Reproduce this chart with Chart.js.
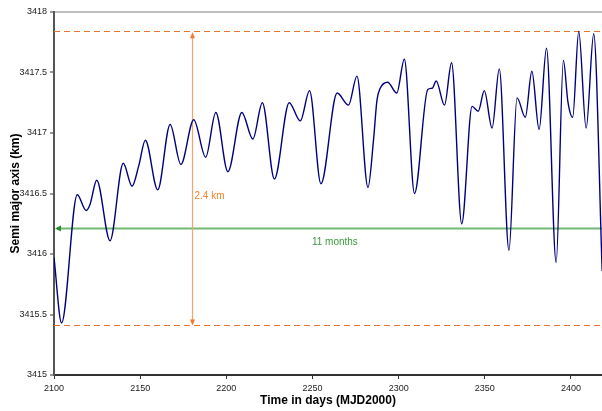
<!DOCTYPE html>
<html>
<head>
<meta charset="utf-8">
<script src="https://cdn.jsdelivr.net/npm/chart.js@4/dist/chart.umd.min.js"></script>
<style>
  html, body { margin: 0; padding: 0; background: #fff; }
  #wrap { width: 602px; height: 411px; }
</style>
</head>
<body>
<div id="wrap"><canvas id="chart"></canvas></div>
<script>
// Time (MJD2000 days) and semi major axis (km): extrema and shoulders
const days = [
  2100.0, 2104.4, 2113.5, 2118.6, 2120.9, 2124.8, 2132.5, 2140.2, 2145.3, 2149.2,
  2153.0, 2160.2, 2167.4, 2173.6, 2181.1, 2188.0, 2193.9, 2200.9, 2209.0, 2215.4,
  2220.9, 2227.9, 2236.5, 2242.9, 2248.3, 2254.9, 2264.3, 2270.9, 2275.8, 2282.2,
  2285.4, 2287.4, 2289.3, 2293.6, 2298.9, 2303.3, 2309.2, 2316.9, 2319.5, 2321.8,
  2326.6, 2330.7, 2336.6, 2342.6, 2346.2, 2349.7, 2354.2, 2358.4, 2364.0, 2368.7,
  2373.5, 2377.3, 2381.5, 2385.8, 2391.4, 2395.6, 2398.2, 2401.0, 2404.5, 2408.8,
  2413.2, 2418.1
];
const axisKm = [
  3415.97, 3415.43, 3416.49, 3416.36, 3416.41, 3416.61, 3416.11, 3416.75, 3416.56, 3416.73,
  3416.94, 3416.53, 3417.07, 3416.74, 3417.11, 3416.80, 3417.17, 3416.68, 3417.17, 3416.95,
  3417.25, 3416.62, 3417.25, 3417.10, 3417.35, 3416.58, 3417.33, 3417.23, 3417.47, 3416.55,
  3416.94, 3417.27, 3417.37, 3417.42, 3417.33, 3417.61, 3416.50, 3417.36, 3417.37, 3417.43,
  3417.23, 3417.58, 3416.25, 3417.22, 3417.18, 3417.35, 3417.04, 3417.53, 3416.03, 3417.29,
  3417.13, 3417.51, 3417.03, 3417.70, 3415.93, 3417.60, 3417.26, 3417.13, 3417.84, 3417.04,
  3417.82, 3415.86
];
const dayTicks = [2100, 2150, 2200, 2250, 2300, 2350, 2400];

// annotation values
const upperKm = 3417.84;
const lowerKm = 3415.41;
const spanDay = 2180;
const spanLabel = '2.4 km';
const spanLabelKm = 3416.48;
const periodKm = 3416.21;
const periodLabel = '11 months';
const periodLabelDay = 2263;

const points = days.map((d, i) => ({ x: d, y: axisKm[i] }));

// draws the dashed bounds, the 2.4 km arrow and the 11 months arrow
const annotations = {
  id: 'annotations',
  beforeDatasetsDraw(chart) {
    const { ctx, chartArea: a, scales: { x, y } } = chart;
    ctx.save();
    ctx.beginPath();
    ctx.rect(a.left, a.top, a.right - a.left, a.bottom - a.top);
    ctx.clip();

    // dashed bounds
    ctx.strokeStyle = '#e6732e';
    ctx.lineWidth = 1;
    ctx.setLineDash([6, 4]);
    [upperKm, lowerKm].forEach(v => {
      const py = Math.round(y.getPixelForValue(v)) + 0.5;
      ctx.beginPath();
      ctx.moveTo(a.left, py);
      ctx.lineTo(a.right, py);
      ctx.stroke();
    });
    ctx.setLineDash([]);

    // green period line
    const gy = y.getPixelForValue(periodKm);
    ctx.strokeStyle = '#72b872';
    ctx.lineWidth = 2;
    ctx.beginPath();
    ctx.moveTo(a.left + 3, gy);
    ctx.lineTo(a.right, gy);
    ctx.stroke();
    ctx.fillStyle = '#2e8b2e';
    ctx.beginPath();
    ctx.moveTo(a.left + 1, gy);
    ctx.lineTo(a.left + 7, gy - 3);
    ctx.lineTo(a.left + 7, gy + 3);
    ctx.closePath();
    ctx.fill();

    // orange span arrow
    const ox = Math.round(x.getPixelForValue(spanDay)) + 0.5;
    const top = y.getPixelForValue(upperKm) + 1;
    const bot = y.getPixelForValue(lowerKm);
    ctx.strokeStyle = '#f8a466';
    ctx.lineWidth = 1.2;
    ctx.beginPath();
    ctx.moveTo(ox, top + 3);
    ctx.lineTo(ox, bot - 3);
    ctx.stroke();
    ctx.fillStyle = '#f07a2a';
    ctx.beginPath();
    ctx.moveTo(ox, top);
    ctx.lineTo(ox - 2.5, top + 6);
    ctx.lineTo(ox + 2.5, top + 6);
    ctx.closePath();
    ctx.fill();
    ctx.beginPath();
    ctx.moveTo(ox, bot);
    ctx.lineTo(ox - 2.5, bot - 6);
    ctx.lineTo(ox + 2.5, bot - 6);
    ctx.closePath();
    ctx.fill();

    // labels
    ctx.font = '10px "Liberation Sans", Arial, sans-serif';
    ctx.textBaseline = 'middle';
    ctx.fillStyle = '#f5842c';
    ctx.textAlign = 'left';
    ctx.fillText(spanLabel, ox + 2, y.getPixelForValue(spanLabelKm));
    ctx.fillStyle = '#3c9a3c';
    ctx.textAlign = 'center';
    ctx.fillText(periodLabel, x.getPixelForValue(periodLabelDay), gy + 14);
    ctx.restore();
  }
};

new Chart(document.getElementById('chart'), {
  type: 'line',
  data: {
    datasets: [{
      data: points,
      borderColor: '#00007f',
      borderWidth: 1.4,
      pointRadius: 0,
      cubicInterpolationMode: 'monotone',
      fill: false
    }]
  },
  options: {
    responsive: true,
    maintainAspectRatio: false,
    animation: false,
    layout: { padding: { top: 12, right: 0, left: 0, bottom: 0 } },
    plugins: { legend: { display: false }, tooltip: { enabled: false } },
    scales: {
      x: {
        type: 'linear',
        min: 2100,
        max: 2418,
        afterBuildTicks: s => { s.ticks = dayTicks.map(v => ({ value: v })); },
        afterFit: s => { s.height = 36; },
        ticks: {
          padding: 4,
          color: '#222',
          font: { family: '"Liberation Sans", Arial, sans-serif', size: 9 },
          callback: v => String(v)
        },
        grid: { drawOnChartArea: false, tickLength: 4, tickColor: '#333', tickWidth: 1 },
        border: { color: '#333', width: 2 },
        title: {
          display: true,
          text: 'Time in days (MJD2000)',
          color: '#000',
          font: { family: '"Liberation Sans", Arial, sans-serif', size: 12, weight: 'bold' },
          padding: { top: 0, bottom: 3 }
        }
      },
      y: {
        min: 3415,
        max: 3418,
        afterFit: s => { s.width = 54; },
        ticks: {
          stepSize: 0.5,
          padding: 3,
          color: '#222',
          font: { family: '"Liberation Sans", Arial, sans-serif', size: 9 },
          callback: v => String(v)
        },
        grid: {
          color: c => (c.tick && c.tick.value === 3418 ? '#bfbfbf' : 'rgba(0,0,0,0)'),
          lineWidth: 2,
          tickLength: 4,
          tickColor: '#333',
          tickWidth: 1
        },
        border: { color: '#555', width: 2 },
        title: {
          display: true,
          text: 'Semi major axis (km)',
          color: '#000',
          font: { family: '"Liberation Sans", Arial, sans-serif', size: 12, weight: 'bold' },
          padding: { top: 8, bottom: 0 }
        }
      }
    }
  },
  plugins: [annotations]
});
</script>
</body>
</html>
